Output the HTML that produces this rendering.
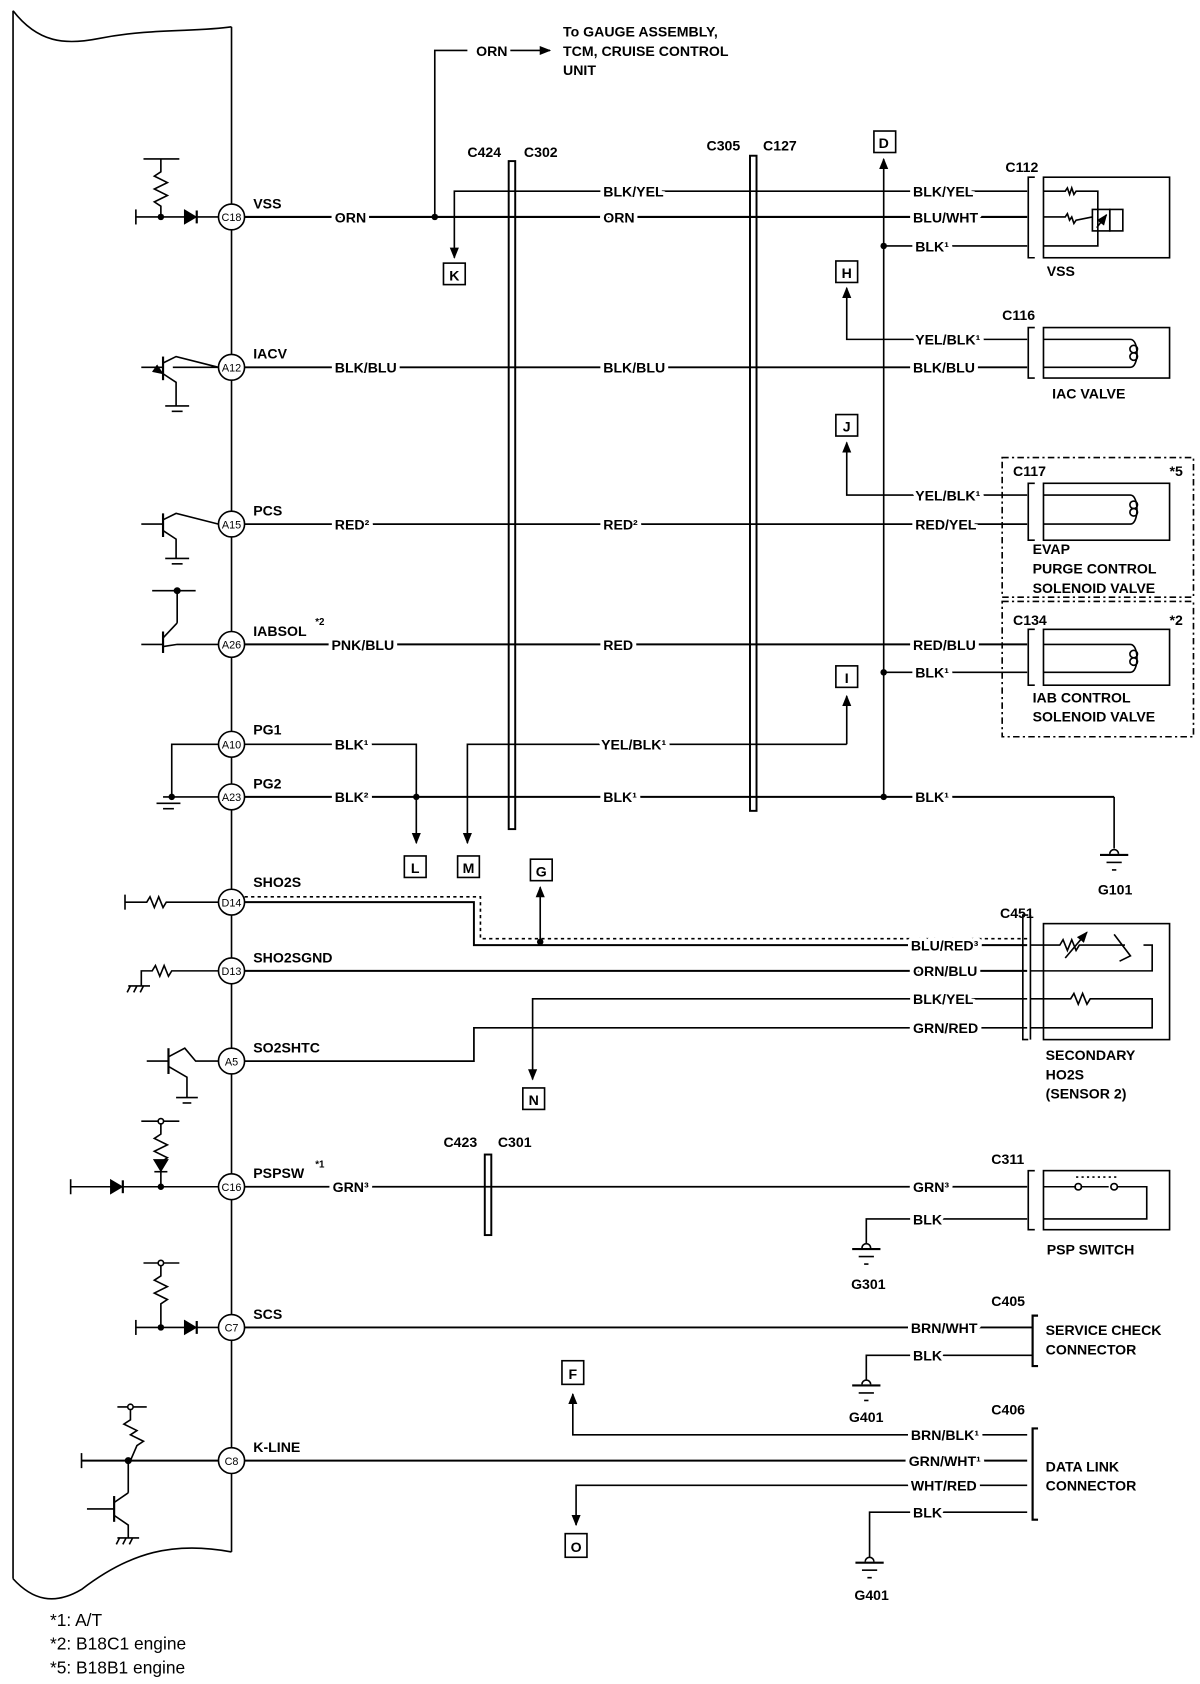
<!DOCTYPE html>
<html><head><meta charset="utf-8"><style>
html,body{margin:0;padding:0;background:#fff;}
svg{display:block;}
text{font-family:"Liberation Sans",sans-serif;font-weight:bold;font-size:13px;fill:#000;}
.m{paint-order:stroke;stroke:#fff;stroke-width:7px;stroke-linejoin:round;}
.s{font-size:9px;}
.p{font-size:10px;font-weight:normal;}
.lg{font-weight:normal;font-size:16px;}
</style></head><body>
<svg width="1200" height="1684" viewBox="0 0 1104 1568" preserveAspectRatio="none" xmlns="http://www.w3.org/2000/svg">
<defs>
<marker id="a" viewBox="0 0 10 10" refX="9" refY="5" markerWidth="7" markerHeight="7" orient="auto"><path d="M0,1 L10,5 L0,9 Z" fill="#000"/></marker>
</defs>
<g fill="none" stroke="#000" stroke-width="1.5">
<!-- ECM box -->
<path d="M12,10 C35,40 60,42 90,36 C140,26 180,30 213,25"/>
<line x1="12" y1="10" x2="12" y2="1470"/>
<line x1="213" y1="25" x2="213" y2="1445"/>
<path d="M12,1470 C30,1490 50,1495 75,1480 C120,1445 160,1435 213,1445"/>

<!-- connector bars -->
<rect x="468" y="150" width="6" height="622" stroke-width="1.8"/>
<rect x="690" y="145" width="6" height="610" stroke-width="1.8"/>
<rect x="446" y="1075" width="6" height="75" stroke-width="1.8"/>

<!-- VSS row -->
<line x1="125" y1="195" x2="125" y2="209"/>
<line x1="125" y1="202" x2="201" y2="202"/>
<line x1="132" y1="148" x2="165" y2="148"/>
<path d="M148,148 L148,160 L142,164 L154,170 L142,176 L154,182 L142,188 L148,192 L148,202"/>
<path d="M170,196 L180,202 L170,208 Z" fill="#000"/><line x1="181" y1="196" x2="181" y2="208" stroke-width="2"/>
<line x1="225" y1="202" x2="945" y2="202" stroke-width="2"/>
<path d="M400,202 L400,47 L430,47"/>
<line x1="460" y1="47" x2="506" y2="47" marker-end="url(#a)"/>
<path d="M945,178 L418,178 L418,240" marker-end="url(#a)"/>
<rect x="408" y="245" width="20" height="20"/>
<line x1="813" y1="742" x2="813" y2="148" marker-end="url(#a)"/>
<rect x="804" y="122" width="20" height="20"/>
<line x1="813" y1="229" x2="945" y2="229"/>
<!-- C112 -->
<path d="M952,165 L946,165 L946,240 L952,240"/>
<rect x="960" y="165" width="116" height="75"/>
<path d="M960,178 L980,178 l2,-3 l2,6 l2,-6 l2,6 l2,-3 L1010,178 L1010,229 L960,229"/>
<path d="M960,202 L980,202 l2,-3 l2,6 l2,-3 l2,6 l2,-3 L1005,202"/>
<rect x="1005" y="195" width="16" height="20"/><rect x="1021" y="195" width="12" height="20"/>
<path d="M1009,212 L1018,200" marker-end="url(#a)"/>
<!-- H -->
<path d="M945,316 L779,316 L779,268" marker-end="url(#a)"/>
<rect x="769" y="243" width="20" height="20"/>
<!-- IACV -->
<line x1="159" y1="342" x2="201" y2="342"/>
<line x1="130" y1="342" x2="150" y2="342"/>
<line x1="150" y1="332" x2="150" y2="354" stroke-width="2"/>
<path d="M150,338 L162,332 L201,342"/>
<path d="M150,348 L162,356 L162,378" marker-start="url(#a)"/>
<line x1="152" y1="378" x2="174" y2="378"/><line x1="158" y1="383" x2="168" y2="383"/>
<line x1="225" y1="342" x2="945" y2="342" stroke-width="1.8"/>
<path d="M952,305 L946,305 L946,352 L952,352"/>
<rect x="960" y="305" width="116" height="47"/>
<path d="M960,316 L1040,316 C1048,316 1048,342 1040,342 L960,342"/>
<circle cx="1043" cy="325" r="3.5"/><circle cx="1043" cy="332" r="3.5"/>
<!-- J -->
<path d="M945,461 L779,461 L779,412" marker-end="url(#a)"/>
<rect x="769" y="386" width="20" height="20"/>
<!-- PCS -->
<line x1="130" y1="488" x2="150" y2="488"/>
<line x1="150" y1="478" x2="150" y2="500" stroke-width="2"/>
<path d="M150,484 L162,478 L201,488"/>
<path d="M150,494 L162,502 L162,520"/>
<line x1="152" y1="520" x2="174" y2="520"/><line x1="158" y1="525" x2="168" y2="525"/>
<line x1="225" y1="488" x2="945" y2="488" stroke-width="1.6"/>
<rect x="922" y="426" width="176" height="130" stroke-dasharray="6,3,2,3"/>
<path d="M952,450 L946,450 L946,503 L952,503"/>
<rect x="960" y="450" width="116" height="53"/>
<path d="M960,461 L1040,461 C1048,461 1048,488 1040,488 L960,488"/>
<circle cx="1043" cy="470" r="3.5"/><circle cx="1043" cy="477" r="3.5"/>
<!-- IABSOL -->
<line x1="140" y1="550" x2="180" y2="550"/><circle cx="163" cy="550" r="2.5" fill="#000"/>
<line x1="163" y1="550" x2="163" y2="580"/>
<line x1="130" y1="600" x2="150" y2="600"/>
<line x1="150" y1="588" x2="150" y2="608" stroke-width="2"/>
<path d="M150,594 L163,580"/><path d="M150,602 L163,600 L201,600"/>
<line x1="225" y1="600" x2="945" y2="600" stroke-width="1.8"/>
<line x1="813" y1="626" x2="945" y2="626"/>
<rect x="922" y="560" width="176" height="126" stroke-dasharray="6,3,2,3"/>
<path d="M952,586 L946,586 L946,638 L952,638"/>
<rect x="960" y="586" width="116" height="52"/>
<path d="M960,600 L1040,600 C1048,600 1048,626 1040,626 L960,626"/>
<circle cx="1043" cy="609" r="3.5"/><circle cx="1043" cy="616" r="3.5"/>
<!-- I / M -->
<path d="M779,693 L779,648" marker-end="url(#a)"/>
<rect x="769" y="620" width="20" height="20"/>
<path d="M779,693 L430,693 L430,785" marker-end="url(#a)"/>
<rect x="421" y="797" width="20" height="20"/>
<!-- PG1 / PG2 -->
<path d="M201,693 L158,693 L158,742"/>
<path d="M225,693 L383,693 L383,785" marker-end="url(#a)"/>
<rect x="372" y="797" width="20" height="20"/>
<line x1="150" y1="742" x2="201" y2="742"/>
<line x1="144" y1="748" x2="166" y2="748"/><line x1="150" y1="753" x2="160" y2="753"/>
<line x1="225" y1="742" x2="1025" y2="742" stroke-width="1.8"/>
<path d="M1025,742 L1025,790"/>
<path d="M1021,795 a4,4 0 0 1 8,0" /><line x1="1012" y1="796" x2="1038" y2="796" stroke-width="2"/><line x1="1018" y1="803" x2="1032" y2="803"/><line x1="1023" y1="810" x2="1027" y2="810"/>
<!-- SHO2S -->
<line x1="115" y1="833" x2="115" y2="847"/>
<path d="M115,840 L135,840 l3,-5 l4,10 l4,-10 l4,10 l3,-5 L201,840"/>
<path d="M225,840 L436,840 L436,880 L945,880" stroke-width="1.8"/>
<path d="M225,835 L442,835 L442,874 L945,874" stroke-dasharray="3,3"/>
<line x1="497" y1="877" x2="497" y2="826" marker-end="url(#a)"/>
<rect x="488" y="800" width="20" height="20"/>
<!-- SHO2SGND -->
<path d="M130,918 L130,904 L140,904 l3,-5 l4,10 l4,-10 l4,10 l3,-5 L201,904"/>
<line x1="118" y1="918" x2="138" y2="918"/><path d="M120,918 l-3,6 M126,918 l-3,6 M132,918 l-3,6"/>
<line x1="225" y1="904" x2="945" y2="904" stroke-width="1.8"/>
<path d="M945,930 L490,930 L490,1005" marker-end="url(#a)"/>
<rect x="481" y="1013" width="20" height="20"/>
<path d="M945,957 L436,957 L436,988 L225,988" stroke-width="1.6"/>
<!-- A5 transistor -->
<line x1="135" y1="988" x2="155" y2="988"/>
<line x1="155" y1="976" x2="155" y2="1000" stroke-width="2"/>
<path d="M155,984 L170,976 L180,988 L201,988"/>
<path d="M155,993 L172,1003 L172,1022"/>
<line x1="162" y1="1022" x2="182" y2="1022"/><line x1="168" y1="1027" x2="176" y2="1027"/>
<!-- C451 -->
<path d="M946,852 L941,852 L941,968 L946,968"/><line x1="948" y1="852" x2="948" y2="968"/>
<rect x="960" y="860" width="116" height="108"/>
<path d="M948,880 L975,880 l3,-5 l4,10 l4,-10 l4,10 l3,-5 L1035,880 M1025,870 L1040,890 L1030,895 M1052,880 L1060,880 L1060,904 L948,904"/>
<path d="M980,892 L1000,868" marker-end="url(#a)"/>
<path d="M948,930 L985,930 l3,-5 l4,10 l4,-10 l4,10 l3,-5 L1060,930 L1060,957 L948,957"/>
<!-- PSPSW -->
<line x1="130" y1="1044" x2="165" y2="1044"/><circle cx="148" cy="1044" r="2.5" fill="#fff"/>
<path d="M148,1046 L148,1056 l-6,4 l12,6 l-12,6 l12,6 l-6,4 L148,1105"/>
<path d="M142,1080 L154,1080 L148,1090 Z" fill="#000"/><line x1="142" y1="1091" x2="154" y2="1091"/>
<line x1="65" y1="1098" x2="65" y2="1112"/>
<line x1="65" y1="1105" x2="201" y2="1105"/>
<path d="M102,1099 L112,1105 L102,1111 Z" fill="#000"/><line x1="113" y1="1099" x2="113" y2="1111" stroke-width="2"/>
<line x1="225" y1="1105" x2="945" y2="1105" stroke-width="1.6"/>
<path d="M945,1135 L797,1135 L797,1158"/>
<path d="M793,1162 a4,4 0 0 1 8,0"/><line x1="784" y1="1163" x2="810" y2="1163" stroke-width="2"/><line x1="790" y1="1170" x2="804" y2="1170"/><line x1="795" y1="1177" x2="799" y2="1177"/>
<path d="M952,1090 L946,1090 L946,1145 L952,1145"/>
<rect x="960" y="1090" width="116" height="55"/>
<path d="M960,1105 L990,1105 M994,1105 L1020,1105 M1028,1105 L1055,1105 L1055,1135 L960,1135"/>
<circle cx="992" cy="1105" r="3"/><circle cx="1025" cy="1105" r="3"/>
<line x1="990" y1="1096" x2="1028" y2="1096" stroke-dasharray="2,3"/>
<!-- SCS -->
<line x1="132" y1="1176" x2="165" y2="1176"/><circle cx="148" cy="1176" r="2.5" fill="#fff"/>
<path d="M148,1178 L148,1188 l-6,4 l12,6 l-12,6 l12,6 l-6,4 L148,1236"/>
<line x1="125" y1="1229" x2="125" y2="1243"/>
<line x1="125" y1="1236" x2="201" y2="1236"/>
<path d="M170,1230 L180,1236 L170,1242 Z" fill="#000"/><line x1="181" y1="1230" x2="181" y2="1242" stroke-width="2"/>
<line x1="225" y1="1236" x2="950" y2="1236" stroke-width="1.8"/>
<path d="M950,1262 L797,1262 L797,1285"/>
<path d="M793,1289 a4,4 0 0 1 8,0"/><line x1="784" y1="1290" x2="810" y2="1290" stroke-width="2"/><line x1="790" y1="1297" x2="804" y2="1297"/><line x1="795" y1="1304" x2="799" y2="1304"/>
<path d="M955,1225 L950,1225 L950,1272 L955,1272" stroke-width="2"/>
<!-- K-LINE -->
<path d="M945,1336 L527,1336 L527,1298" marker-end="url(#a)"/>
<rect x="517" y="1267" width="20" height="22"/>
<line x1="108" y1="1310" x2="135" y2="1310"/><circle cx="120" cy="1310" r="2.5" fill="#fff"/>
<path d="M120,1312 L120,1322 l-6,4 l12,6 l-6,4 l12,6 l-6,4 L120,1360"/>
<line x1="75" y1="1353" x2="75" y2="1367"/>
<line x1="75" y1="1360" x2="201" y2="1360" stroke-width="1.8"/><circle cx="118" cy="1360" r="2.5" fill="#000"/>
<line x1="225" y1="1360" x2="945" y2="1360" stroke-width="1.8"/>
<line x1="118" y1="1360" x2="118" y2="1390"/>
<line x1="80" y1="1405" x2="105" y2="1405"/>
<line x1="105" y1="1393" x2="105" y2="1417" stroke-width="2"/>
<path d="M105,1399 L118,1390"/><path d="M105,1411 L118,1420 L118,1432"/>
<line x1="108" y1="1432" x2="128" y2="1432"/><path d="M110,1432 l-3,6 M116,1432 l-3,6 M122,1432 l-3,6"/>
<path d="M945,1383 L530,1383 L530,1420" marker-end="url(#a)"/>
<rect x="520" y="1428" width="20" height="22"/>
<path d="M945,1408 L800,1408 L800,1450"/>
<path d="M796,1454 a4,4 0 0 1 8,0"/><line x1="787" y1="1455" x2="813" y2="1455" stroke-width="2"/><line x1="793" y1="1462" x2="807" y2="1462"/><line x1="798" y1="1469" x2="802" y2="1469"/>
<path d="M955,1330 L950,1330 L950,1415 L955,1415" stroke-width="2"/>
</g>
<!-- dots -->
<g fill="#000">
<circle cx="148" cy="202" r="3"/><circle cx="400" cy="202" r="3"/><circle cx="813" cy="229" r="3"/>
<circle cx="813" cy="626" r="3"/><circle cx="383" cy="742" r="3"/><circle cx="813" cy="742" r="3"/>
<circle cx="497" cy="877" r="3"/><circle cx="148" cy="1105" r="3"/><circle cx="148" cy="1236" r="3"/>
<circle cx="158" cy="742" r="3"/>
</g>
<!-- pins -->
<g fill="#fff" stroke="#000" stroke-width="1.5">
<circle cx="213" cy="202" r="12"/><circle cx="213" cy="342" r="12"/><circle cx="213" cy="488" r="12"/>
<circle cx="213" cy="600" r="12"/><circle cx="213" cy="693" r="12"/><circle cx="213" cy="742" r="12"/>
<circle cx="213" cy="840" r="12"/><circle cx="213" cy="904" r="12"/><circle cx="213" cy="988" r="12"/>
<circle cx="213" cy="1105" r="12"/><circle cx="213" cy="1236" r="12"/><circle cx="213" cy="1360" r="12"/>
</g>
<g class="p" text-anchor="middle">
<text class="p" x="213" y="206">C18</text><text class="p" x="213" y="346">A12</text><text class="p" x="213" y="492">A15</text>
<text class="p" x="213" y="604">A26</text><text class="p" x="213" y="697">A10</text><text class="p" x="213" y="746">A23</text>
<text class="p" x="213" y="844">D14</text><text class="p" x="213" y="908">D13</text><text class="p" x="213" y="992">A5</text>
<text class="p" x="213" y="1109">C16</text><text class="p" x="213" y="1240">C7</text><text class="p" x="213" y="1364">C8</text>
</g>
<!-- pin names -->
<text x="233" y="194">VSS</text><text x="233" y="334">IACV</text><text x="233" y="480">PCS</text>
<text x="233" y="592">IABSOL</text><text class="s" x="290" y="582">*2</text>
<text x="233" y="684">PG1</text><text x="233" y="734">PG2</text><text x="233" y="826">SHO2S</text>
<text x="233" y="896">SHO2SGND</text><text x="233" y="980">SO2SHTC</text>
<text x="233" y="1097">PSPSW</text><text class="s" x="290" y="1087">*1</text>
<text x="233" y="1228">SCS</text><text x="233" y="1352">K-LINE</text>
<!-- wire labels -->
<g class="m">
<text x="308" y="207">ORN</text><text x="555" y="207">ORN</text><text x="840" y="207">BLU/WHT</text>
<text x="555" y="183">BLK/YEL</text><text x="840" y="183">BLK/YEL</text><text x="842" y="234">BLK¹</text>
<text x="438" y="52">ORN</text>
<text x="842" y="321">YEL/BLK¹</text>
<text x="308" y="347">BLK/BLU</text><text x="555" y="347">BLK/BLU</text><text x="840" y="347">BLK/BLU</text>
<text x="842" y="466">YEL/BLK¹</text>
<text x="308" y="493">RED²</text><text x="555" y="493">RED²</text><text x="842" y="493">RED/YEL</text>
<text x="305" y="605">PNK/BLU</text><text x="555" y="605">RED</text><text x="840" y="605">RED/BLU</text><text x="842" y="631">BLK¹</text>
<text x="308" y="698">BLK¹</text><text x="553" y="698">YEL/BLK¹</text>
<text x="308" y="747">BLK²</text><text x="555" y="747">BLK¹</text><text x="842" y="747">BLK¹</text>
<text x="838" y="885">BLU/RED³</text><text x="840" y="909">ORN/BLU</text><text x="840" y="935">BLK/YEL</text><text x="840" y="962">GRN/RED</text>
<text x="306" y="1110">GRN³</text><text x="840" y="1110">GRN³</text><text x="840" y="1140">BLK</text>
<text x="838" y="1241">BRN/WHT</text><text x="840" y="1267">BLK</text>
<text x="838" y="1341">BRN/BLK¹</text><text x="836" y="1365">GRN/WHT¹</text><text x="838" y="1388">WHT/RED</text><text x="840" y="1413">BLK</text>
</g>
<!-- connector / box labels -->
<text x="430" y="146">C424</text><text x="482" y="146">C302</text>
<text x="650" y="140">C305</text><text x="702" y="140">C127</text>
<text x="408" y="1068">C423</text><text x="458" y="1068">C301</text>
<text x="518" y="34">To GAUGE ASSEMBLY,</text><text x="518" y="52">TCM, CRUISE CONTROL</text><text x="518" y="70">UNIT</text>
<text x="813" y="138" text-anchor="middle">D</text><text x="418" y="261" text-anchor="middle">K</text>
<text x="779" y="259" text-anchor="middle">H</text><text x="779" y="402" text-anchor="middle">J</text>
<text x="779" y="636" text-anchor="middle">I</text><text x="382" y="813" text-anchor="middle">L</text>
<text x="431" y="813" text-anchor="middle">M</text><text x="498" y="816" text-anchor="middle">G</text>
<text x="491" y="1029" text-anchor="middle">N</text><text x="527" y="1284" text-anchor="middle">F</text>
<text x="530" y="1445" text-anchor="middle">O</text>
<text x="925" y="160">C112</text><text x="963" y="257">VSS</text>
<text x="922" y="298">C116</text><text x="968" y="371">IAC VALVE</text>
<text x="932" y="443">C117</text><text x="1076" y="443">*5</text>
<text x="950" y="516">EVAP</text><text x="950" y="534">PURGE CONTROL</text><text x="950" y="552">SOLENOID VALVE</text>
<text x="932" y="582">C134</text><text x="1076" y="582">*2</text>
<text x="950" y="654">IAB CONTROL</text><text x="950" y="672">SOLENOID VALVE</text>
<text x="1010" y="833">G101</text>
<text x="920" y="855">C451</text>
<text x="962" y="987">SECONDARY</text><text x="962" y="1005">HO2S</text><text x="962" y="1023">(SENSOR 2)</text>
<text x="912" y="1084">C311</text><text x="963" y="1168">PSP SWITCH</text>
<text x="783" y="1200">G301</text>
<text x="912" y="1216">C405</text><text x="962" y="1243">SERVICE CHECK</text><text x="962" y="1261">CONNECTOR</text>
<text x="781" y="1324">G401</text>
<text x="912" y="1317">C406</text><text x="962" y="1370">DATA LINK</text><text x="962" y="1388">CONNECTOR</text>
<text x="786" y="1490">G401</text>
<text class="lg" x="46" y="1514">*1: A/T</text>
<text class="lg" x="46" y="1536">*2: B18C1 engine</text>
<text class="lg" x="46" y="1558">*5: B18B1 engine</text>
</svg>
</body></html>
